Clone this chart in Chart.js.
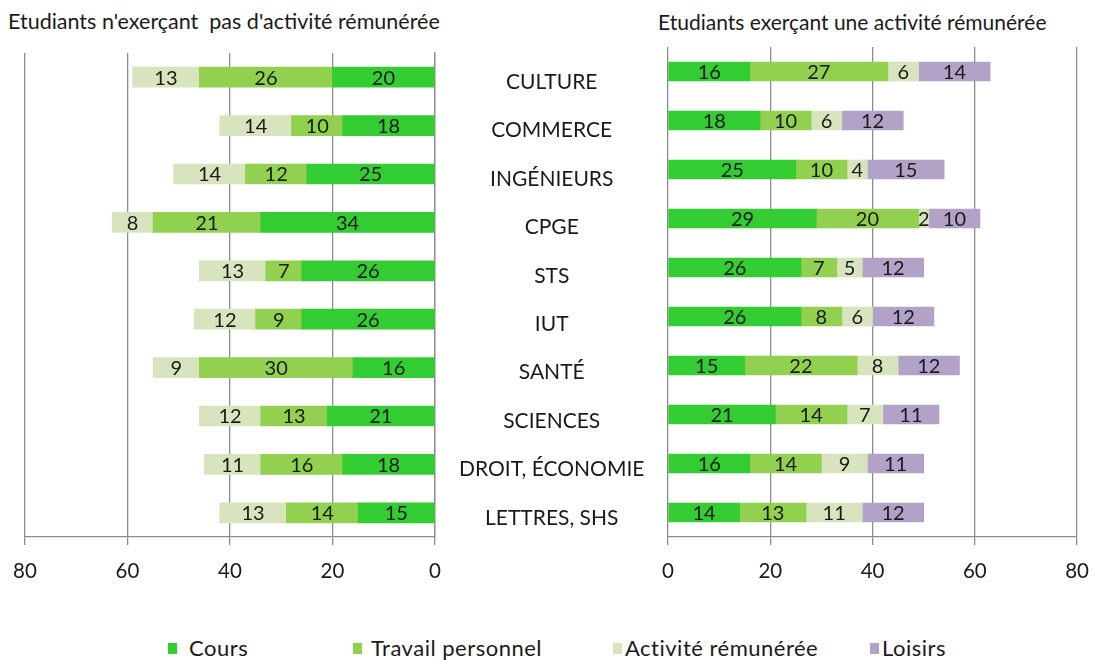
<!DOCTYPE html>
<html><head><meta charset="utf-8">
<script src="https://cdn.jsdelivr.net/npm/chart.js@4.4.1/dist/chart.umd.min.js"></script>
<style>
body{margin:0;width:1095px;height:660px;background:#fff;position:relative;overflow:hidden;font-family:Lato,sans-serif;color:#1a1a1a}
canvas{position:absolute;top:0}
#c1{left:0}
#c2{left:560px}
.t{position:absolute;font-size:21px;line-height:24px;white-space:nowrap}
.lg{font-size:22px;letter-spacing:0.5px}
.m{position:absolute;width:9px;height:11px}
</style></head><body>
<div class="t" style="left:8px;top:9px;font-size:21.5px">Etudiants n'exerçant&nbsp; pas d'activité rémunérée</div>
<div class="t" style="left:658px;top:10px">Etudiants exerçant une activité rémunérée</div>
<canvas id="c1" width="670" height="600"></canvas>
<canvas id="c2" width="543" height="600"></canvas>
<div id="legend"></div>
<script>
const categories = ['CULTURE','COMMERCE','INGÉNIEURS','CPGE','STS','IUT','SANTÉ','SCIENCES','DROIT, ÉCONOMIE','LETTRES, SHS'];
const seriesNames = ['Cours','Travail personnel','Activité rémunérée','Loisirs'];
const xTicks = [0,20,40,60,80];
// Students without paid activity
const leftCours    = [20,18,25,34,26,26,16,21,18,15];
const leftTravail  = [26,10,12,21,7,9,30,13,16,14];
const leftActivite = [13,14,14,8,13,12,9,12,11,13];
// Students with paid activity
const rightCours    = [16,18,25,29,26,26,15,21,16,14];
const rightTravail  = [27,10,10,20,7,8,22,14,14,13];
const rightActivite = [6,6,4,2,5,6,8,7,9,11];
const rightLoisirs  = [14,12,15,10,12,12,12,11,11,12];

const colors = ['#33cc33','#92d050','#d7e4bd','#b3a2c7'];
const grey = '#8c8c8c';
Chart.defaults.font.family = 'Lato, sans-serif';
Chart.defaults.color = '#1a1a1a';

const valueLabels = {
  id:'valueLabels',
  afterDatasetsDraw(chart){
    const ctx = chart.ctx; ctx.save();
    ctx.font = '20px Lato, sans-serif'; ctx.fillStyle = '#1a1a1a';
    ctx.textAlign = 'center'; ctx.textBaseline = 'middle';
    chart.data.datasets.forEach((ds,i)=>{
      const meta = chart.getDatasetMeta(i);
      meta.data.forEach((el,j)=>{
        const v = ds.data[j]; if(!v) return;
        const p = el.getProps(['x','base','y'], true);
        ctx.fillText(String(v), (p.x+p.base)/2, p.y+1);
      });
    });
    ctx.restore();
  }
};

function xScale(reverse){
  return {
    type:'linear', min:0, max:80, reverse, stacked:true,
    afterBuildTicks(s){ s.ticks = xTicks.map(v=>({value:v})); },
    afterFit(s){ s.height = 63; },
    grid:{color:grey, lineWidth:1.3, tickLength:8, tickColor:grey, drawTicks:true},
    border:{color:grey, width:1.3},
    ticks:{font:{size:20.5}, padding:14, color:'#1a1a1a', maxRotation:0}
  };
}
function ds(label, data, color, thick){
  return {label, data, backgroundColor:color, borderWidth:0, barThickness:thick};
}

new Chart(document.getElementById('c1'), {
  type:'bar',
  data:{labels:categories, datasets:[
    ds(seriesNames[0], leftCours, colors[0], 20),
    ds(seriesNames[1], leftTravail, colors[1], 20),
    ds(seriesNames[2], leftActivite, colors[2], 20)
  ]},
  options:{
    indexAxis:'y', responsive:false, animation:false,
    layout:{padding:{left:25, top:53, right:0, bottom:0}},
    plugins:{legend:{display:false}, tooltip:{enabled:false}},
    scales:{
      x: xScale(true),
      y: { position:'right', stacked:true,
        afterFit(s){ s.width = 235; },
        grid:{display:false, drawTicks:false},
        border:{color:grey, width:1.3},
        ticks:{crossAlign:'center', padding:24, labelOffset:5, font:{size:21}, color:'#1a1a1a'} }
    }
  },
  plugins:[valueLabels]
});

new Chart(document.getElementById('c2'), {
  type:'bar',
  data:{labels:categories, datasets:[
    ds(seriesNames[0], rightCours, colors[0], 19),
    ds(seriesNames[1], rightTravail, colors[1], 19),
    ds(seriesNames[2], rightActivite, colors[2], 19),
    ds(seriesNames[3], rightLoisirs, colors[3], 19)
  ]},
  options:{
    indexAxis:'y', responsive:false, animation:false,
    layout:{padding:{left:108, top:47, right:0, bottom:0}},
    plugins:{legend:{display:false}, tooltip:{enabled:false}},
    scales:{
      x: xScale(false),
      y: { display:false, stacked:true }
    }
  },
  plugins:[valueLabels]
});

// HTML legend
const legendPos = [[168,189],[353,371],[613,625],[870,882]];
const lg = document.getElementById('legend');
seriesNames.forEach((n,i)=>{
  const m = document.createElement('div'); m.className='m';
  m.style.left = legendPos[i][0]+'px'; m.style.top='643px'; m.style.background=colors[i];
  const t = document.createElement('div'); t.className='t lg';
  t.style.left = legendPos[i][1]+'px'; t.style.top='636px'; t.textContent = n;
  lg.appendChild(m); lg.appendChild(t);
});
</script>
</body></html>
